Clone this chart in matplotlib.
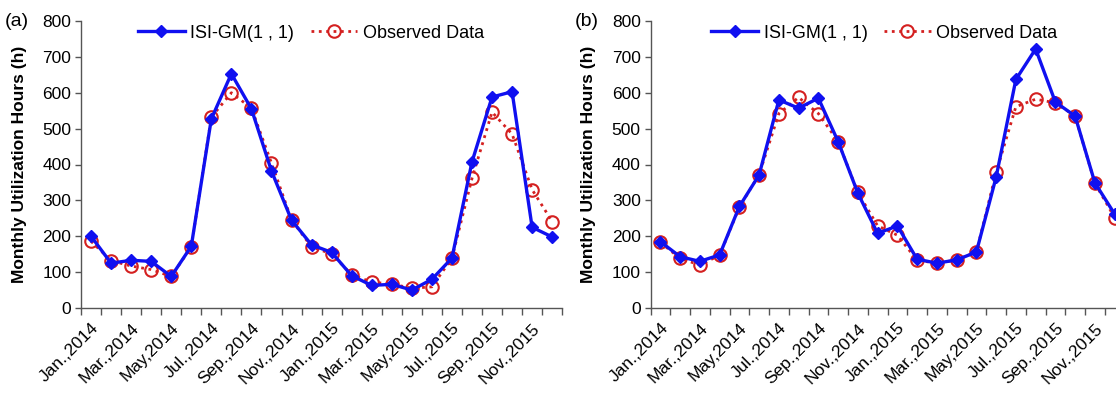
import matplotlib
matplotlib.use('Agg')
import matplotlib.pyplot as plt
from matplotlib.ticker import MultipleLocator, FixedLocator

plt.rcParams['font.family'] = ['Liberation Sans', 'DejaVu Sans']

months = ['Jan.,2014', 'Feb.,2014', 'Mar.,2014', 'Apr.,2014', 'May,2014', 'Jun.,2014',
          'Jul.,2014', 'Aug.,2014', 'Sep.,2014', 'Oct.,2014', 'Nov.,2014', 'Dec.,2014',
          'Jan.,2015', 'Feb.,2015', 'Mar.,2015', 'Apr.,2015', 'May,2015', 'Jun.,2015',
          'Jul.,2015', 'Aug.,2015', 'Sep.,2015', 'Oct.,2015', 'Nov.,2015', 'Dec.,2015']

# panel (a)
model_a = [200, 125, 133, 130, 88, 172, 527, 653, 555, 382, 245, 176,
           155, 90, 63, 66, 50, 80, 139, 407, 588, 603, 225, 198]
obs_a = [186, 132, 117, 107, 88, 170, 532, 600, 557, 404, 246, 170,
         151, 93, 72, 67, 55, 59, 139, 361, 546, 485, 330, 241]

# panel (b)
model_b = [185, 143, 130, 148, 283, 371, 580, 557, 585, 464, 320, 208,
           229, 136, 125, 134, 156, 365, 637, 722, 574, 535, 349, 262]
obs_b = [183, 138, 120, 147, 281, 372, 542, 587, 542, 464, 322, 229,
         203, 133, 125, 134, 156, 378, 561, 582, 572, 535, 348, 252]

# tag, model, observed, axis left (px), category step (px), legend x, ylabel right edge (px)
panels = [('(a)', model_a, obs_a, 81, 20.05, 0.478, 27),
          ('(b)', model_b, obs_b, 650.5, 19.75, 0.493, 596)]

W, H = 1116, 394
fig = plt.figure(figsize=(W / 100, H / 100), dpi=100)

spine_col = '#555555'
for tag, model, obs, left_px, step_px, leg_x, lab_px in panels:
    y0, y1 = 308, 21
    width_px = 24 * step_px
    ax = fig.add_axes([left_px / W, 1 - y0 / H, width_px / W, (y0 - y1) / H])
    x = list(range(len(months)))
    ax.plot(x, model, '-', color='#1010F0', lw=2.4, marker='D', ms=6,
            label='ISI-GM(1 , 1)', zorder=3)
    ax.plot(x, obs, ':', color='#D42020', lw=2.0, marker='o', ms=9,
            mfc='none', mec='#D42020', mew=1.5, label='Observed Data', zorder=2)

    ax.set_xlim(-0.5, 23.5)
    ax.set_ylim(0, 800)
    ax.yaxis.set_major_locator(MultipleLocator(100))
    ax.set_xticks(x[::2])
    ax.set_xticklabels(months[::2], rotation=45, ha='right', rotation_mode='anchor')
    ax.xaxis.set_minor_locator(FixedLocator([i - 0.5 for i in range(25)]))
    ax.tick_params(axis='x', which='major', length=0, pad=9, labelsize=12.5)
    ax.tick_params(axis='x', which='minor', length=5, width=1, color=spine_col, direction='out')
    ax.tick_params(axis='y', length=4, width=1, color=spine_col, labelsize=12.5, pad=3)
    for s in ['top', 'right']:
        ax.spines[s].set_visible(False)
    for s in ['left', 'bottom']:
        ax.spines[s].set_color(spine_col)
        ax.spines[s].set_linewidth(1)

    ax.set_ylabel('Monthly Utilization Hours (h)', fontsize=12.5, fontweight='bold')
    ax.yaxis.set_label_coords((lab_px - left_px) / width_px, 0.5)

    ax.legend(loc='center', bbox_to_anchor=(leg_x, 0.958), ncol=2, frameon=False,
              fontsize=13, handlelength=2.6, handletextpad=0.3, columnspacing=0.9)

    fig.text((left_px - 76) / W, 1 - 21 / H, tag, fontsize=14, va='center')

fig.savefig('out.png', dpi=100)
